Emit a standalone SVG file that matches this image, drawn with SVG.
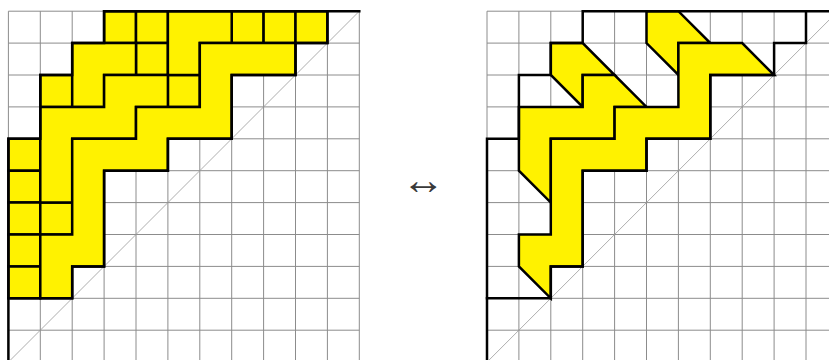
<svg xmlns="http://www.w3.org/2000/svg" xmlns:xlink="http://www.w3.org/1999/xlink" width="829" height="360" viewBox="0 0 829 360">
<style>
.grid{fill:none;stroke:#8c8c8c;stroke-width:1;vector-effect:non-scaling-stroke}
.diag{fill:none;stroke:#999;stroke-width:0.8;vector-effect:non-scaling-stroke}
.tile{fill:#fff200;stroke:#000;stroke-width:2.5;stroke-linejoin:miter;vector-effect:non-scaling-stroke}
.bound{fill:none;stroke:#000;stroke-width:2.5;stroke-linejoin:miter;stroke-linecap:square;vector-effect:non-scaling-stroke}
.arrow{font-family:'Liberation Serif','DejaVu Serif',serif;font-size:30px;fill:#3a3a3a}
</style>
<defs>
<g id="grid">
<path class="grid" d="M0 0H11M0 1H11M0 2H11M0 3H11M0 4H11M0 5H11M0 6H11M0 7H11M0 8H11M0 9H11M0 10H11M0 11H11M0 0V11M1 0V11M2 0V11M3 0V11M4 0V11M5 0V11M6 0V11M7 0V11M8 0V11M9 0V11M10 0V11M11 0V11"/>
<path class="diag" d="M0 11L11 0"/>
</g>
<g id="paths">
<polyline class="bound" points="0,11 0,4 1,4 1,2 2,2 2,1 3,1 3,0 11,0"/>
<polyline class="bound" points="0,9 2,9 2,8 3,8 3,5 5,5 5,4 7,4 7,2 9,2 9,1 10,1 10,0"/>
</g>
</defs>
<g id="left-figure" transform="translate(8.4 11.2) scale(31.9)">
<use xlink:href="#grid"/>
<g id="left-tiles">
<rect id="b30" class="tile" x="3" y="0" width="1" height="1"/>
<rect id="b40" class="tile" x="4" y="0" width="1" height="1"/>
<rect id="b70" class="tile" x="7" y="0" width="1" height="1"/>
<rect id="b80" class="tile" x="8" y="0" width="1" height="1"/>
<rect id="b90" class="tile" x="9" y="0" width="1" height="1"/>
<rect id="b41" class="tile" x="4" y="1" width="1" height="1"/>
<rect id="b52" class="tile" x="5" y="2" width="1" height="1"/>
<rect id="b12" class="tile" x="1" y="2" width="1" height="1"/>
<rect id="b04" class="tile" x="0" y="4" width="1" height="1"/>
<rect id="b05" class="tile" x="0" y="5" width="1" height="1"/>
<rect id="b06" class="tile" x="0" y="6" width="1" height="1"/>
<rect id="b07" class="tile" x="0" y="7" width="1" height="1"/>
<rect id="b08" class="tile" x="0" y="8" width="1" height="1"/>
<rect id="b16" class="tile" x="1" y="6" width="1" height="1"/>
<polygon id="t2" class="tile" points="5,0 7,0 7,1 6,1 6,2 5,2"/>
<polygon id="t1" class="tile" points="2,1 4,1 4,2 3,2 3,3 2,3"/>
<polygon id="r" class="tile" points="1,3 3,3 3,2 5,2 5,3 4,3 4,4 2,4 2,6 1,6"/>
<polygon id="q" class="tile" points="6,1 9,1 9,2 7,2 7,4 5,4 5,5 3,5 3,8 2,8 2,9 1,9 1,7 2,7 2,4 4,4 4,3 6,3"/>
</g>
<use xlink:href="#paths"/>
</g>
<text id="arrow" class="arrow" transform="translate(423.5 193.5) scale(1.45 1.4)" text-anchor="middle">↔</text>
<g id="right-figure" transform="translate(487 11.2) scale(31.9)">
<use xlink:href="#grid"/>
<g id="right-tiles">
<polygon id="a" class="tile" points="5,0 6,0 7,1 6,1 6,2 5,1"/>
<polygon id="c" class="tile" points="2,1 3,1 4,2 3,2 3,3 2,2"/>
<polygon id="f" class="tile" points="1,3 3,3 3,2 4,2 5,3 4,3 4,4 2,4 2,6 1,5"/>
<polygon id="q2" class="tile" points="6,1 8,1 9,2 7,2 7,4 5,4 5,5 3,5 3,8 2,8 2,9 1,8 1,7 2,7 2,4 4,4 4,3 6,3"/>
</g>
<use xlink:href="#paths"/>
</g>
</svg>
